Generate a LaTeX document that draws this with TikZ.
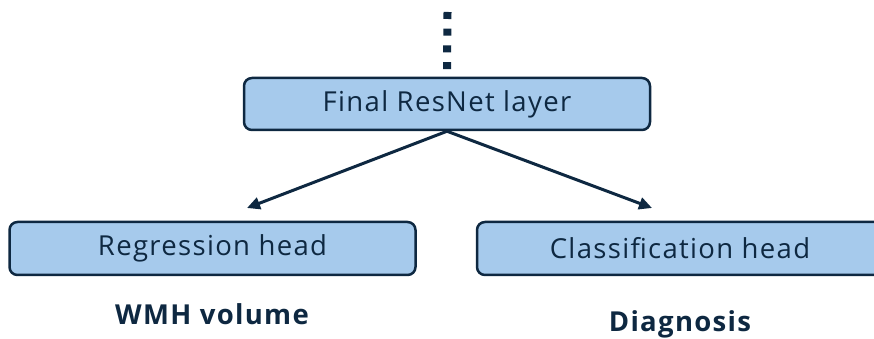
\documentclass[tikz,border=0pt]{standalone}
\usepackage{fontspec}
\setmainfont{Open Sans}[LetterSpace=4.8]
\usetikzlibrary{arrows.meta}
\definecolor{navy}{HTML}{0E2841}
\definecolor{boxblue}{HTML}{A6CAEC}
\begin{document}
\begin{tikzpicture}[x=1pt,y=1pt,
  block/.style={draw=navy, line width=2.5pt, fill=boxblue, rounded corners=8pt,
    minimum width=406pt, minimum height=52pt, inner sep=0pt,
    text=navy, font=\fontsize{27.5}{30}\selectfont},
  outlabel/.style={anchor=base, text=navy, font=\fontsize{27.5}{30}\selectfont\bfseries},
  link/.style={draw=navy, line width=3pt, -{Triangle[length=13pt,width=12pt]}}]
\useasboundingbox (0,0) rectangle (874,339);
% network body continuing above the last layer
\coordinate (above) at (447.5,327);
\node[block] (final) at (447,235) {Final ResNet layer};
\draw[navy, line width=8pt, dash pattern=on 7pt off 9.7pt] (above) -- (final.north);
% the two output heads
\node[block, minimum height=53pt] (reg) at (212.5,90.5) {Regression head};
\node[block, minimum height=53pt] (cls) at (680,90.5) {Classification head};
\coordinate (regtip) at (247,131);
\coordinate (clstip) at (652,131);
\draw[link] (final.south) -- (regtip);
\draw[link] (final.south) -- (clstip);
% what each head predicts
\node[outlabel] (wmh) at (212,14) {WMH volume};
\node[outlabel] (diag) at (680,7) {Diagnosis};
\end{tikzpicture}
\end{document}
